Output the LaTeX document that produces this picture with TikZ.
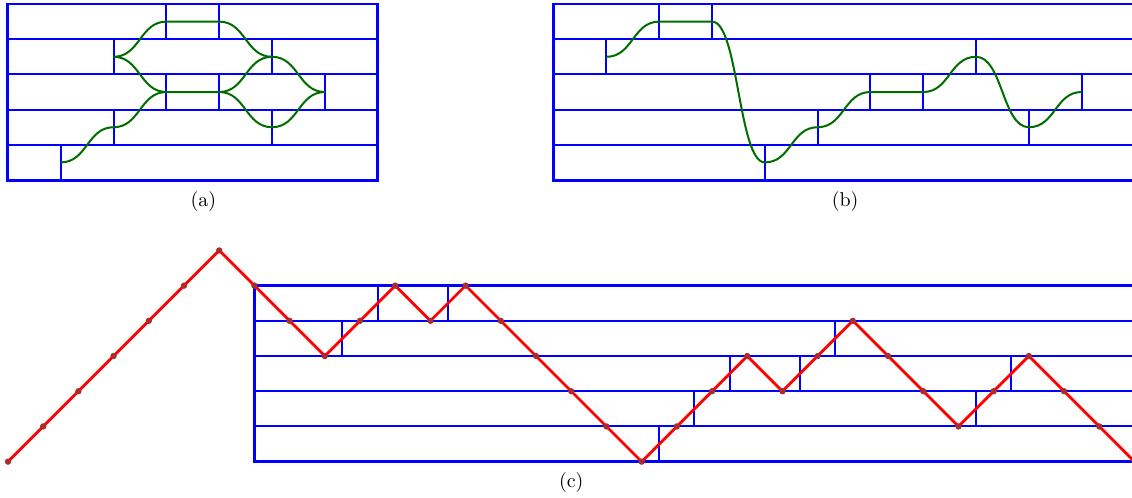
\documentclass[tikz,border=0pt]{standalone}
\usepackage{amsmath,amssymb,xcolor}
\definecolor{pathgreen}{rgb}{0,0.42,0}
\definecolor{dotred}{rgb}{0.66,0.18,0.18}

\begin{document}
\begin{tikzpicture}[x=0.62cm,y=0.62cm,
  grid/.style={blue,line width=1pt},
  frame/.style={blue,line width=1.5pt},
  wire/.style={pathgreen,line width=1pt},
  scurve/.style={to path={.. controls +(0.75,0) and +(-0.75,0) .. (\tikztotarget)}},
  walk/.style={red,line width=1.4pt}]
\useasboundingbox (-0.227,-9.006) rectangle (31.93,5.114);
\clip (-0.227,-9.006) rectangle (31.93,5.114);

% (a)
\foreach \y in {1,...,4} \draw[grid] (0,\y)--(10.5,\y);
\foreach \x/\y in {1.5/0,3/1,3/3,4.5/2,4.5/4,6/2,6/4,7.5/1,7.5/3,9/2}
  \draw[grid] (\x,\y)--(\x,\y+1);
\draw[frame] (0,0) rectangle (10.5,5);
\coordinate (a1) at (1.5,0.5); \coordinate (a2) at (3,1.5);
\coordinate (a3) at (4.5,2.5); \coordinate (a4) at (6,2.5);
\coordinate (a5) at (3,3.5);   \coordinate (a6) at (4.5,4.5);
\coordinate (a7) at (6,4.5);   \coordinate (a8) at (7.5,3.5);
\coordinate (a9) at (7.5,1.5); \coordinate (a10) at (9,2.5);
\draw[wire] (a1) to[scurve] (a2) to[scurve] (a3) -- (a4) to[scurve] (a8) to[scurve] (a10);
\draw[wire] (a5) to[scurve] (a6) -- (a7) to[scurve] (a8);
\draw[wire] (a5) to[scurve] (a3);
\draw[wire] (a4) to[scurve] (a9) to[scurve] (a10);
\node (lab-a) at (5.55,-0.6) {(a)};

% (b)
\begin{scope}[shift={(15.5,0)}]
\foreach \y in {1,...,4} \draw[grid] (0,\y)--(17,\y);
\foreach \x/\y in {1.5/3,3/4,4.5/4,6/0,7.5/1,9/2,10.5/2,12/3,13.5/1,15/2}
  \draw[grid] (\x,\y)--(\x,\y+1);
\draw[frame] (0,0) rectangle (17,5);
\coordinate (b1) at (1.5,3.5);  \coordinate (b2) at (3,4.5);
\coordinate (b3) at (4.5,4.5);  \coordinate (b4) at (6,0.5);
\coordinate (b5) at (7.5,1.5);  \coordinate (b6) at (9,2.5);
\coordinate (b7) at (10.5,2.5); \coordinate (b8) at (12,3.5);
\coordinate (b9) at (13.5,1.5); \coordinate (b10) at (15,2.5);
\draw[wire] (b1) to[scurve] (b2) -- (b3) to[scurve] (b4) to[scurve] (b5)
  to[scurve] (b6) -- (b7) to[scurve] (b8) to[scurve] (b9) to[scurve] (b10);
\end{scope}
\node (lab-b) at (23.78,-0.6) {(b)};

% (c)
\foreach \y in {-7,...,-4} \draw[grid] (7,\y)--(33,\y);
\foreach \x/\y in {10.5/-4,12.5/-4,9.5/-5,23.5/-5,20.5/-6,22.5/-6,28.5/-6,19.5/-7,27.5/-7,18.5/-8}
  \draw[grid] (\x,\y)--(\x,\y+1);
\draw[frame] (33,-3)--(7,-3)--(7,-8)--(33,-8);
\draw[walk] (0,-8)--(6,-2)--(9,-5)--(11,-3)--(12,-4)--(13,-3)--(18,-8)--(21,-5)
  --(22,-6)--(24,-4)--(27,-7)--(29,-5)--(33,-9);
\foreach \y [count=\i from 0] in {-8,-7,-6,-5,-4,-3,-2,-3,-4,-5,-4,-3,-4,-3,-4,-5,-6,
  -7,-8,-7,-6,-5,-6,-5,-4,-5,-6,-7,-6,-5,-6,-7,-8}
  \fill[dotred] (\i,\y) circle (1.6pt);
\node (lab-c) at (16,-8.6) {(c)};
\end{tikzpicture}
\end{document}
